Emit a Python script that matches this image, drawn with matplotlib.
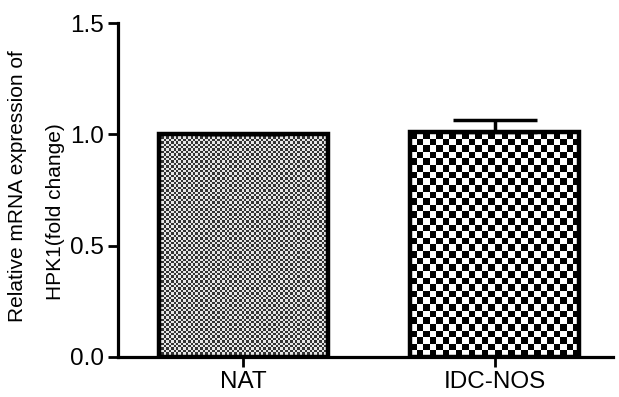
import numpy as np, matplotlib
matplotlib.use('Agg')
import matplotlib.pyplot as plt
plt.rcParams.update({'font.family': ['Liberation Sans', 'DejaVu Sans']})

groups = ['NAT', 'IDC-NOS']
means = [1.0, 1.01]
err_up = [0.0, 0.055]
yticks = [0.0, 0.5, 1.0, 1.5]
cells = [2.4, 6.6]          # checker cell size in px for each bar
tones = [(0.2, 0.9), (0.0, 1.0)]  # dark/light grey level of each checker

fig = plt.figure(figsize=(6.19, 3.97), dpi=100, facecolor='white')
ax = fig.add_axes([0.19, 0.1008, 0.80, 0.8412])
x = np.arange(len(groups))
bars = ax.bar(x, means, width=0.673, facecolor='none', edgecolor='black', linewidth=3.2, zorder=3)
ax.errorbar(x, means, yerr=[[0] * len(x), err_up], fmt='none', ecolor='black',
            elinewidth=2.5, capsize=30, capthick=2.5, zorder=2)
ax.set_xlim(-0.5, 1.47)
ax.set_ylim(0, 1.5)

fig.canvas.draw()
for b, c, (lo, hi) in zip(bars, cells, tones):
    x0, y0, w, h = b.get_x(), b.get_y(), b.get_width(), b.get_height()
    bb = b.get_window_extent()
    nx = max(int(round(bb.width / c)), 1)
    ny = max(int(round(bb.height / c)), 1)
    pat = np.where(np.add.outer(np.arange(ny), np.arange(nx)) % 2, hi, lo)
    im = ax.imshow(pat, cmap='gray', vmin=0, vmax=1, interpolation='nearest',
                   extent=[x0, x0 + w, y0, y0 + h], aspect='auto', zorder=1)
    im.set_clip_path(b)
ax.set_xlim(-0.5, 1.47)
ax.set_ylim(0, 1.5)

for s in ['top', 'right']:
    ax.spines[s].set_visible(False)
for s in ['left', 'bottom']:
    ax.spines[s].set_linewidth(2.3)
ax.set_xticks(x)
ax.set_xticklabels(groups, fontsize=17.5)
ax.set_yticks(yticks)
ax.set_yticklabels([f'{v:.1f}' for v in yticks], fontsize=17.5)
ax.tick_params(direction='out', length=7, width=2, pad=3)
fig.text(0.029, 0.531, 'Relative mRNA expression of', rotation=90,
         ha='center', va='center', fontsize=15)
fig.text(0.089, 0.468, 'HPK1(fold change)', rotation=90,
         ha='center', va='center', fontsize=15)
fig.savefig('out.png', dpi=100, facecolor='white')
